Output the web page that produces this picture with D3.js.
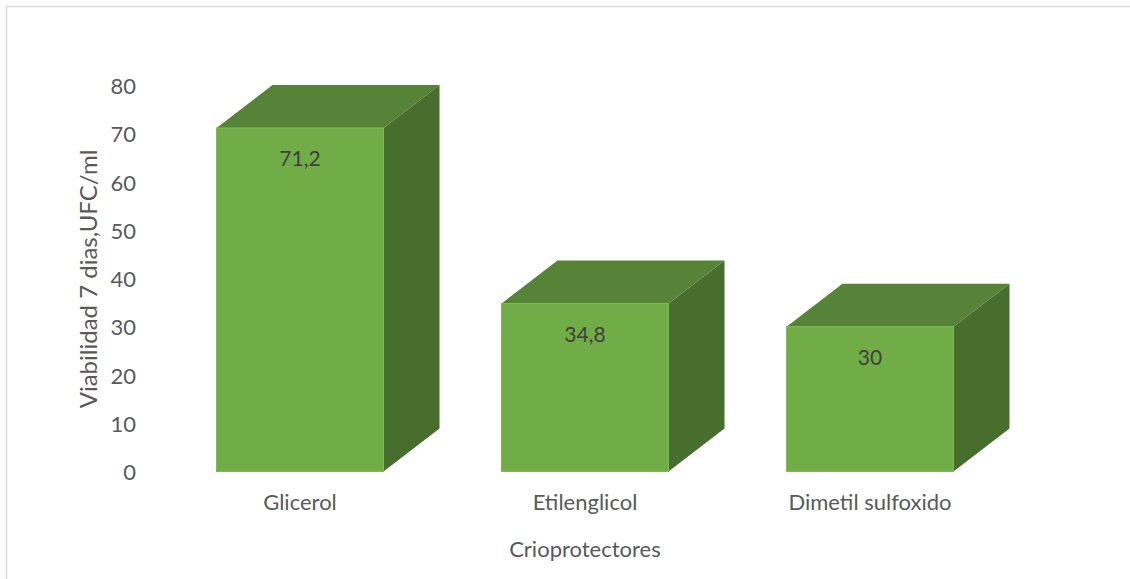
<!DOCTYPE html>
<html><head><meta charset="utf-8">
<script src="https://cdn.jsdelivr.net/npm/d3@7"></script>
<style>body{margin:0;background:#fff}svg{display:block}text{font-family:Lato,"Open Sans",sans-serif}</style>
</head><body>
<script>
const categories = ["Glicerol", "Etilenglicol", "Dimetil sulfoxido"];
const values = [71.2, 34.8, 30];
const valueLabels = ["71,2", "34,8", "30"];
const yTicks = [0, 10, 20, 30, 40, 50, 60, 70, 80];
const yTitle = "Viabilidad 7 dias,UFC/ml";
const xTitle = "Crioprotectores";

const W = 1130, H = 579;
const svg = d3.select("body").append("svg").attr("width", W).attr("height", H);

svg.append("rect").attr("x", 6.5).attr("y", 6.5).attr("width", W + 20).attr("height", H + 20)
  .attr("fill", "none").attr("stroke", "#d9d9d9").attr("stroke-width", 1.5);

const x = d3.scaleBand().domain(categories).range([157.5, 1012.5])
  .paddingInner(0.414).paddingOuter(0.207);
const y = d3.scaleLinear().domain([0, 80]).range([471.5, 85.5]);
const dx = 56, dy = -43;

// y tick labels
svg.append("g").selectAll("text").data(yTicks).join("text")
  .attr("x", 136).attr("y", d => y(d) + 1).attr("dy", "0.35em")
  .attr("text-anchor", "end").attr("fill", "#595959").attr("font-size", 22)
  .text(d => d);

const data = categories.map((c, i) => ({c, v: values[i], l: valueLabels[i]}));
const bars = svg.append("g").selectAll("g").data(data).join("g");

bars.append("path").attr("fill", "#476e2d").attr("d", d => {
  const x1 = x(d.c) + x.bandwidth(), yt = y(d.v), yb = y(0);
  return `M${x1},${yt}L${x1 + dx},${yt + dy}L${x1 + dx},${yb + dy}L${x1},${yb}Z`;
});
bars.append("path").attr("fill", "#568337").attr("d", d => {
  const x0 = x(d.c), x1 = x0 + x.bandwidth(), yt = y(d.v);
  return `M${x0},${yt}L${x0 + dx},${yt + dy}L${x1 + dx},${yt + dy}L${x1},${yt}Z`;
});
bars.append("rect").attr("fill", "#70ad47").attr("stroke", "#7dbb52").attr("stroke-width", 1)
  .attr("x", d => x(d.c)).attr("y", d => y(d.v))
  .attr("width", x.bandwidth()).attr("height", d => y(0) - y(d.v));
bars.append("text")
  .attr("x", d => x(d.c) + x.bandwidth() / 2).attr("y", d => y(d.v) + 31).attr("dy", "0.35em")
  .attr("text-anchor", "middle").attr("fill", "#404040").attr("font-size", 21)
  .text(d => d.l);

// category labels
svg.append("g").selectAll("text").data(categories).join("text")
  .attr("x", d => x(d) + x.bandwidth() / 2).attr("y", 502).attr("dy", "0.35em")
  .attr("text-anchor", "middle").attr("fill", "#595959").attr("font-size", 22)
  .text(d => d);

svg.append("text").attr("x", 585).attr("y", 549).attr("dy", "0.35em")
  .attr("text-anchor", "middle").attr("fill", "#595959").attr("font-size", 22).text(xTitle);

svg.append("text").attr("transform", "translate(89,279) rotate(-90)").attr("dy", "0.35em")
  .attr("text-anchor", "middle").attr("fill", "#595959").attr("font-size", 24).text(yTitle);
</script>
</body></html>
